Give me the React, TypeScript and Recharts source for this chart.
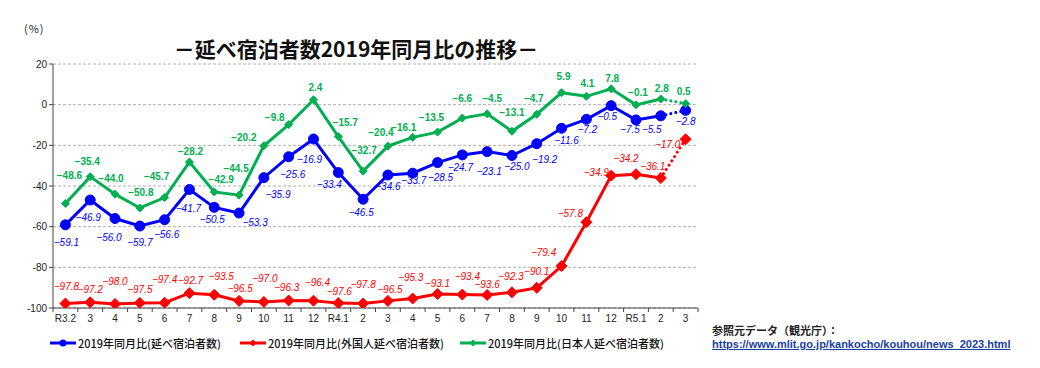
import React from 'react';
import { LineChart, Line, XAxis, YAxis, CartesianGrid, LabelList } from 'recharts';

const months = [
  'R3.2', '3', '4', '5', '6', '7', '8', '9', '10', '11', '12',
  'R4.1', '2', '3', '4', '5', '6', '7', '8', '9', '10', '11', '12',
  'R5.1', '2', '3',
];

// 2019年同月比 (%)
const totalRatio = [
  -59.1, -46.9, -56.0, -59.7, -56.6, -41.7, -50.5, -53.3, -35.9, -25.6, -16.9,
  -33.4, -46.5, -34.6, -33.7, -28.5, -24.7, -23.1, -25.0, -19.2, -11.6, -7.2, -0.5,
  -7.5, -5.5, -2.8,
];
const foreignRatio = [
  -97.8, -97.2, -98.0, -97.5, -97.4, -92.7, -93.5, -96.5, -97.0, -96.3, -96.4,
  -97.6, -97.8, -96.5, -95.3, -93.1, -93.4, -93.6, -92.3, -90.1, -79.4, -57.8, -34.9,
  -34.2, -36.1, -17.0,
];
const japaneseRatio = [
  -48.6, -35.4, -44.0, -50.8, -45.7, -28.2, -42.9, -44.5, -20.2, -9.8, 2.4,
  -15.7, -32.7, -20.4, -16.1, -13.5, -6.6, -4.5, -13.1, -4.7, 5.9, 4.1, 7.8,
  -0.1, 2.8, 0.5,
];

const yTicks = [20, 0, -20, -40, -60, -80, -100];

// label nudges (px) so the value labels sit where the original places them
const totalLabelShift = [
  [1, 18], [-2, 17], [-6, 19], [0, 16], [2, 15], [-1, 19], [-2, 12], [16, 9], [14, 17], [4, 18], [-4, 20],
  [-9, 12], [-2, 13], [0, 11], [1, 7], [3, 15], [-2, 13], [2, 20], [5, 11], [8, 16], [5, 12], [1, 10], [-4, 11],
  [-6, 10], [-9, 14], [0, 11],
];
const foreignLabelShift = [
  [1, -17], [0, -13], [0, -22], [0, -13], [0, -23], [1, -13], [7, -18], [1, -12], [1, -23], [-2, -13], [4, -18],
  [1, -12], [0, -19], [2, -11], [-2, -21], [0, -10], [5, -18], [0, -10], [-1, -16], [0, -16], [-18, -14], [-16, -9], [-15, -3],
  [-10, -16], [-8, -12], [-18, 5],
];
const japaneseLabelShift = [
  [4, -28], [-3, -15], [-4, -16], [1, -15], [-8, -21], [1, -11], [7, -12], [-3, -27], [-20, -8], [-14, -7], [2, -12],
  [7, -14], [1, -21], [-7, -14], [-9, -10], [-6, -15], [0, -20], [5, -15], [0, -19], [-3, -16], [2, -16], [1, -13], [1, -10],
  [2, -12], [1, -10], [-2, -12],
];

const BLUE = '#0000ff';
const RED = '#ff0000';
const GREEN = '#00b050';
const FONT = "'Liberation Sans', 'Noto Sans CJK JP', sans-serif";
const JP_FONT = "'Noto Sans CJK JP', sans-serif";

const PLOT_LEFT = 53;
const PLOT_RIGHT = 698;
const BAND = (PLOT_RIGHT - PLOT_LEFT) / months.length;
const last = months.length - 1;

const chartData = months.map((m, i) => ({
  month: m,
  total: i < last ? totalRatio[i] : null,
  totalDot: i >= last - 1 ? totalRatio[i] : null,
  foreign: i < last ? foreignRatio[i] : null,
  foreignDot: i >= last - 1 ? foreignRatio[i] : null,
  japanese: i < last ? japaneseRatio[i] : null,
  japaneseDot: i >= last - 1 ? japaneseRatio[i] : null,
}));

function Circle({ cx, cy, color }: any) {
  if (cx == null || cy == null) return null;
  return <circle cx={cx} cy={cy} r={5} fill={color} stroke={color} />;
}

function Diamond({ cx, cy, color, size }: any) {
  if (cx == null || cy == null) return null;
  const s = size;
  return (
    <path
      d={`M${cx},${cy - s} L${cx + s},${cy} L${cx},${cy + s} L${cx - s},${cy} Z`}
      fill={color}
      stroke={color}
    />
  );
}

const makeDot = (kind: string, color: string, onlyLast: boolean) => (p: any) => {
  const key = `${kind}-${p.index}`;
  if (onlyLast && p.index !== last) return <g key={key} />;
  if (p.value == null || p.cy == null) return <g key={key} />;
  if (kind === 'circle') return <Circle key={key} cx={p.cx} cy={p.cy} color={color} />;
  return <Diamond key={key} cx={p.cx} cy={p.cy} color={color} size={kind === 'big' ? 5.5 : 4} />;
};

const makeLabel = (color: string, shifts: number[][], style: 'italic' | 'bold', onlyLast: boolean) =>
  (p: any) => {
    const { x, y, value, index } = p;
    if (value == null || x == null || y == null) return null;
    if (onlyLast && index !== last) return null;
    if (!onlyLast && index === last) return null;
    const [dx, dy] = shifts[index];
    return (
      <text
        x={x + dx}
        y={y + dy}
        fill={color}
        fontSize={10}
        fontFamily={FONT}
        fontStyle={style === 'italic' ? 'italic' : 'normal'}
        fontWeight={style === 'bold' ? 700 : 400}
        textAnchor="middle"
        dominantBaseline="central"
      >
        {value.toFixed(1).replace('-', '−')}
      </text>
    );
  };

function MonthTick({ x, y, payload, index }: any) {
  return (
    <g>
      <line x1={x - BAND / 2} y1={y - 8} x2={x - BAND / 2} y2={y - 4} stroke="#444" />
      {index === last && <line x1={x + BAND / 2} y1={y - 8} x2={x + BAND / 2} y2={y - 4} stroke="#444" />}
      <text x={x} y={y + 6} fill="#222" fontSize={10} fontFamily={FONT} textAnchor="middle">
        {payload.value}
      </text>
    </g>
  );
}

const legendItems = [
  { label: '2019年同月比(延べ宿泊者数)', color: BLUE, kind: 'circle', left: 50 },
  { label: '2019年同月比(外国人延べ宿泊者数)', color: RED, kind: 'diamond', left: 240 },
  { label: '2019年同月比(日本人延べ宿泊者数)', color: GREEN, kind: 'diamond', left: 460 },
];

export default function App() {
  return (
    <div style={{ position: 'absolute', left: 0, top: 0, width: 1040, height: 368, background: '#fff', fontFamily: FONT }}>
      <div style={{ position: 'absolute', left: 24, top: 20, fontSize: 11, letterSpacing: 1, color: '#222', fontFamily: JP_FONT }}>(%)</div>
      <div
        style={{
          position: 'absolute', left: 0, width: 712, top: 33, textAlign: 'center',
          fontSize: 21, fontWeight: 700, color: '#111', fontFamily: JP_FONT,
        }}
      >
        －延べ宿泊者数2019年同月比の推移－
      </div>
      <LineChart
        width={1040}
        height={368}
        data={chartData}
        margin={{ top: 64, right: 1040 - PLOT_RIGHT, bottom: 40, left: 0 }}
        style={{ position: 'absolute', left: 0, top: 0 }}
      >
        <CartesianGrid vertical={false} stroke="#b0b0b0" strokeDasharray="3 2" />
        <XAxis
          dataKey="month"
          height={20}
          padding={{ left: BAND / 2, right: BAND / 2 }}
          axisLine={{ stroke: '#444' }}
          tickLine={false}
          tick={<MonthTick />}
          interval={0}
        />
        <YAxis
          width={PLOT_LEFT}
          domain={[-100, 20]}
          ticks={yTicks}
          allowDataOverflow
          axisLine={{ stroke: '#444' }}
          tickLine={{ stroke: '#444' }}
          tickSize={4}
          tick={{ fill: '#222', fontSize: 10, fontFamily: FONT }}
        />
        <Line dataKey="foreign" stroke={RED} strokeWidth={3} dot={makeDot('big', RED, false)} isAnimationActive={false}>
          <LabelList content={makeLabel(RED, foreignLabelShift, 'italic', false)} />
        </Line>
        <Line dataKey="foreignDot" stroke={RED} strokeWidth={3} strokeDasharray="0.1 5" strokeLinecap="round" dot={makeDot('big', RED, true)} isAnimationActive={false}>
          <LabelList content={makeLabel(RED, foreignLabelShift, 'italic', true)} />
        </Line>
        <Line dataKey="total" stroke={BLUE} strokeWidth={3} dot={makeDot('circle', BLUE, false)} isAnimationActive={false}>
          <LabelList content={makeLabel(BLUE, totalLabelShift, 'italic', false)} />
        </Line>
        <Line dataKey="totalDot" stroke={BLUE} strokeWidth={3} strokeDasharray="0.1 5" strokeLinecap="round" dot={makeDot('circle', BLUE, true)} isAnimationActive={false}>
          <LabelList content={makeLabel(BLUE, totalLabelShift, 'italic', true)} />
        </Line>
        <Line dataKey="japanese" stroke={GREEN} strokeWidth={3} dot={makeDot('small', GREEN, false)} isAnimationActive={false}>
          <LabelList content={makeLabel(GREEN, japaneseLabelShift, 'bold', false)} />
        </Line>
        <Line dataKey="japaneseDot" stroke={GREEN} strokeWidth={3} strokeDasharray="0.1 5" strokeLinecap="round" dot={makeDot('small', GREEN, true)} isAnimationActive={false}>
          <LabelList content={makeLabel(GREEN, japaneseLabelShift, 'bold', true)} />
        </Line>
      </LineChart>
      {legendItems.map((it) => (
        <div key={it.label} style={{ position: 'absolute', left: it.left, top: 335, display: 'flex', alignItems: 'center' }}>
          <svg width={26} height={12}>
            <line x1={0} y1={6} x2={26} y2={6} stroke={it.color} strokeWidth={3} />
            {it.kind === 'circle' ? (
              <circle cx={13} cy={6} r={3.5} fill={it.color} />
            ) : (
              <path d="M13,2.5 L16.5,6 L13,9.5 L9.5,6 Z" fill={it.color} />
            )}
          </svg>
          <span style={{ marginLeft: 2, fontSize: 11, fontWeight: 500, color: '#111', fontFamily: JP_FONT }}>{it.label}</span>
        </div>
      ))}
      <div style={{ position: 'absolute', left: 712, top: 322, fontSize: 11, fontWeight: 700, color: '#222', fontFamily: JP_FONT }}>
        参照元データ（観光庁）：
      </div>
      <div style={{ position: 'absolute', left: 712, top: 338, fontSize: 11, fontWeight: 700, color: '#1a3fa0', textDecoration: 'underline', fontFamily: FONT }}>
        https://www.mlit.go.jp/kankocho/kouhou/news_2023.html
      </div>
    </div>
  );
}
